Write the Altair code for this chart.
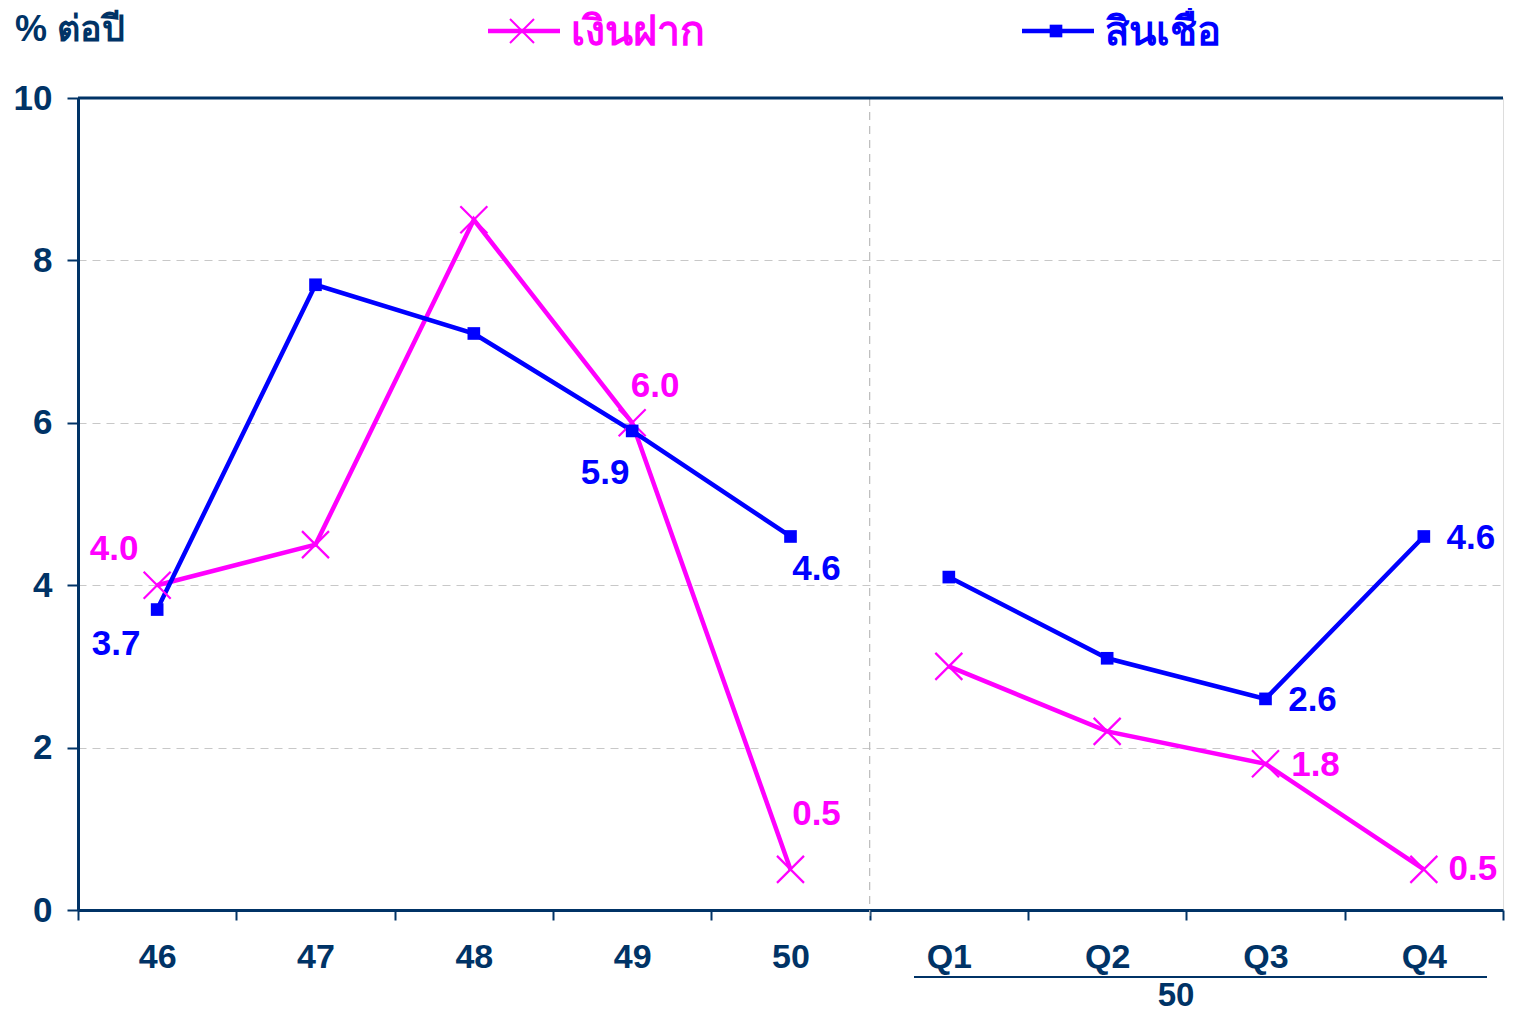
import altair as alt
import pandas as pd

# ---- data ----
categories = ["46", "47", "48", "49", "50", "Q1", "Q2", "Q3", "Q4"]
segments = ["annual", "annual", "annual", "annual", "annual",
            "quarter", "quarter", "quarter", "quarter"]
deposits = [4.0, 4.5, 8.5, 6.0, 0.5, 3.0, 2.2, 1.8, 0.5]
loans = [3.7, 7.7, 7.1, 5.9, 4.6, 4.1, 3.1, 2.6, 4.6]
series_names = ["เงินฝาก", "สินเชื่อ"]
y_title = "% ต่อปี"
group_label = "50"

NAVY = "#003366"
MAGENTA = "#FF00FF"
BLUE = "#0000FF"
FONT = "Liberation Sans"
FS = 35

W, H = 1425, 812

rows = []
for c, s, d, l in zip(categories, segments, deposits, loans):
    rows.append({"cat": c, "seg": s, "series": series_names[0], "value": d})
    rows.append({"cat": c, "seg": s, "series": series_names[1], "value": l})
df = pd.DataFrame(rows)

xscale = alt.Scale(type="band", domain=categories, paddingInner=0, paddingOuter=0)
yscale = alt.Scale(domain=[0, 10], nice=False)

X = alt.X("cat:N", scale=xscale, sort=categories,
          axis=alt.Axis(title=None, labelAngle=0, labelAlign="center", grid=False,
                        tickBand="extent",
                        labelFontSize=34, labelFont=FONT, labelFontWeight="bold",
                        labelColor=NAVY, tickColor=NAVY, tickSize=10, tickWidth=2,
                        domainColor=NAVY, domainWidth=3, labelPadding=37))
Y = alt.Y("value:Q", scale=yscale,
          axis=alt.Axis(title=None, values=[0, 2, 4, 6, 8, 10], format="d", grid=True,
                        gridColor="#c8c8c8", gridDash=[8, 6], gridWidth=1.2,
                        labelFontSize=FS, labelFont=FONT, labelFontWeight="bold",
                        labelColor=NAVY, tickColor=NAVY, tickSize=11, tickWidth=2,
                        domainColor=NAVY, domainWidth=3, labelPadding=15))

color = alt.Color("series:N", scale=alt.Scale(domain=series_names, range=[MAGENTA, BLUE]),
                  legend=None)

base = alt.Chart(df)

lines = base.mark_line(strokeWidth=4.5).encode(x=X, y=Y, color=color, detail="seg:N")

xpath = "M-1,-1L1,1M-1,1L1,-1"
dep_pts = base.transform_filter(alt.datum.series == series_names[0]).mark_point(
    shape=xpath, filled=False, stroke=MAGENTA, strokeWidth=2.2, size=729, opacity=1
).encode(x=X, y=Y)
loan_pts = base.transform_filter(alt.datum.series == series_names[1]).mark_square(
    color=BLUE, size=160, opacity=1
).encode(x=X, y=Y)

# separator between annual and quarterly
sep = alt.Chart(pd.DataFrame({"cat": ["Q1"]})).mark_rule(
    color="#bbbbbb", strokeDash=[8, 6], strokeWidth=1.2
).encode(x=alt.X("cat:N", scale=xscale, bandPosition=0), y=alt.value(0), y2=alt.value(818))

# top border
top = alt.Chart(pd.DataFrame({"v": [10]})).mark_rule(color=NAVY, strokeWidth=3).encode(
    y=alt.Y("v:Q", scale=yscale), x=alt.value(0), x2=alt.value(W))

# value labels: (series index, category, dx, dy)
label_specs = [
    (0, "46", -43, -36), (1, "46", -41, 34),
    (0, "49", 23, -37), (1, "49", -27, 42),
    (0, "50", 26, -55), (1, "50", 26, 33),
    (0, "Q3", 50, 1), (1, "Q3", 47, 1),
    (0, "Q4", 49, 0), (1, "Q4", 47, 2),
]
label_layers = []
for si, c, dx, dy in label_specs:
    label_layers.append(
        base.transform_filter(
            (alt.datum.series == series_names[si]) & (alt.datum.cat == c)
        ).mark_text(fontSize=FS, font=FONT, fontWeight="bold", dx=dx, dy=dy,
                    baseline="middle", align="center",
                    color=[MAGENTA, BLUE][si]).encode(
            x=X, y=Y, text=alt.Text("value:Q", format=".1f"))
    )

# title text
one = pd.DataFrame({"t": [y_title]})
title_txt = alt.Chart(one).mark_text(fontSize=36, font=FONT, fontWeight="bold", color=NAVY,
                                     align="left", baseline="middle").encode(
    text="t:N", x=alt.value(-63), y=alt.value(-68))

# legend
leg = pd.DataFrame({"t": series_names})
leg_items = []
leg_x = [410, 944]
leg_cols = [MAGENTA, BLUE]
leg_fs = [41, 40]
for i in range(2):
    d1 = leg.iloc[[i]]
    leg_items.append(alt.Chart(d1).mark_rule(color=leg_cols[i], strokeWidth=4.5).encode(
        x=alt.value(leg_x[i]), x2=alt.value(leg_x[i] + 72), y=alt.value(-67)))
    leg_items.append(alt.Chart(d1).mark_text(fontSize=leg_fs[i], font=FONT, fontWeight="bold",
                                             color=leg_cols[i], align="left",
                                             baseline="middle").encode(
        text="t:N", x=alt.value(leg_x[i] + 83), y=alt.value(-65)))
leg_items.append(alt.Chart(leg.iloc[[0]]).mark_point(
    shape=xpath, filled=False, stroke=MAGENTA, strokeWidth=2, size=576, opacity=1).encode(
    x=alt.value(leg_x[0] + 34), y=alt.value(-67)))
leg_items.append(alt.Chart(leg.iloc[[1]]).mark_square(color=BLUE, size=160, opacity=1).encode(
    x=alt.value(leg_x[1] + 34), y=alt.value(-67)))

# secondary grouping label for quarters
grp = pd.DataFrame({"t": [group_label]})
grp_line = alt.Chart(grp).mark_rule(color=NAVY, strokeWidth=2).encode(
    x=alt.value(836), x2=alt.value(1409), y=alt.value(879))
grp_txt = alt.Chart(grp).mark_text(fontSize=33, font=FONT, fontWeight="bold", color=NAVY,
                                   align="center", baseline="middle").encode(
    text="t:N", x=alt.value(1098), y=alt.value(898))

chart = alt.layer(
    sep, lines, dep_pts, loan_pts, top, *label_layers, title_txt, *leg_items, grp_line, grp_txt
).properties(
    width=W, height=H,
    autosize=alt.AutoSizeParams(type="none"),
    padding={"left": 70, "top": 90, "right": 2, "bottom": 102},
).configure_view(stroke="#6f8fae", strokeWidth=1.5).configure(background="white")

chart.save("out.html", embed_options={"renderer": "svg", "actions": False})
